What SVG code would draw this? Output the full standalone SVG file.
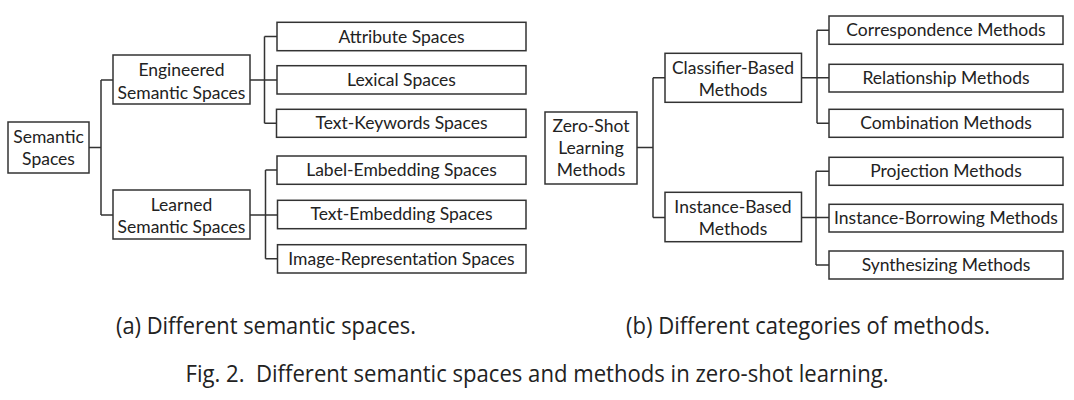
<svg xmlns="http://www.w3.org/2000/svg" width="1074" height="400" viewBox="0 0 1074 400">
<style>
.box{fill:#fff;stroke:#333;stroke-width:1.5}
.t{font-family:Lato,"Open Sans","Liberation Sans",sans-serif;font-size:17.5px;fill:#222;text-anchor:middle}
.cap{font-family:"Open Sans","Liberation Sans",sans-serif;font-size:24px;fill:#222;text-anchor:middle}
.c{fill:none;stroke:#333;stroke-width:1.5}
</style>
<rect width="1074" height="400" fill="#fff"/>
<g id="connectors">
<path class="c" d="M89 147.5H101M101 80V215M101 80H113M101 215H113"/>
<path class="c" d="M250 80H277M264.5 36.5V123.3M264.5 36.5H277M264.5 123.3H277"/>
<path class="c" d="M250 215H277M265.5 170V258.8M265.5 170H277M265.5 258.8H277"/>
<path class="c" d="M637 147.5H653M653 77.7V217.5M653 77.7H665M653 217.5H665"/>
<path class="c" d="M801.5 77.7H829M817 30.2V123.3M817 30.2H829M817 123.3H829"/>
<path class="c" d="M801.5 217.5H829M816 171.3V265M816 171.3H829M816 265H829"/>
</g>
<g id="semantic-spaces"><rect class="box" x="8" y="122" width="81" height="51"/><text class="t" x="48.5" y="142.5">Semantic</text><text class="t" x="48.5" y="165">Spaces</text></g>
<g id="engineered"><rect class="box" x="113" y="55" width="137" height="49"/><text class="t" x="181.5" y="76">Engineered</text><text class="t" x="181.5" y="98.5">Semantic Spaces</text></g>
<g id="learned"><rect class="box" x="113" y="190" width="137" height="49"/><text class="t" x="181.5" y="210.5">Learned</text><text class="t" x="181.5" y="233">Semantic Spaces</text></g>
<g id="attribute"><rect class="box" x="277" y="22.3" width="249" height="28.4"/><text class="t" x="401.5" y="42.5">Attribute Spaces</text></g>
<g id="lexical"><rect class="box" x="277" y="65.7" width="249" height="28.3"/><text class="t" x="401.5" y="85.7">Lexical Spaces</text></g>
<g id="text-keywords"><rect class="box" x="276.5" y="109.3" width="249.5" height="28"/><text class="t" x="401.5" y="129">Text-Keywords Spaces</text></g>
<g id="label-embedding"><rect class="box" x="277" y="156" width="249" height="28.3"/><text class="t" x="401.5" y="176">Label-Embedding Spaces</text></g>
<g id="text-embedding"><rect class="box" x="277.5" y="200.3" width="248.5" height="28.4"/><text class="t" x="401.5" y="220.3">Text-Embedding Spaces</text></g>
<g id="image-representation"><rect class="box" x="277.5" y="244.7" width="248.5" height="28.3"/><text class="t" x="401.5" y="264.7">Image-Representation Spaces</text></g>
<g id="zsl-methods"><rect class="box" x="545" y="112" width="92" height="72"/><text class="t" x="591" y="131.7">Zero-Shot</text><text class="t" x="591" y="154">Learning</text><text class="t" x="591" y="176">Methods</text></g>
<g id="classifier-based"><rect class="box" x="665" y="53.3" width="136.5" height="49"/><text class="t" x="733" y="73.5">Classifier-Based</text><text class="t" x="733" y="95.5">Methods</text></g>
<g id="instance-based"><rect class="box" x="665" y="192.3" width="136.5" height="49.4"/><text class="t" x="733" y="212.5">Instance-Based</text><text class="t" x="733" y="234.5">Methods</text></g>
<g id="correspondence"><rect class="box" x="829" y="16" width="234" height="28.3"/><text class="t" x="946" y="36">Correspondence Methods</text></g>
<g id="relationship"><rect class="box" x="829" y="64.3" width="234" height="27.7"/><text class="t" x="946" y="84">Relationship Methods</text></g>
<g id="combination"><rect class="box" x="829" y="109.3" width="234" height="28"/><text class="t" x="946" y="129">Combination Methods</text></g>
<g id="projection"><rect class="box" x="829" y="157.3" width="234" height="28"/><text class="t" x="946" y="177">Projection Methods</text></g>
<g id="instance-borrowing"><rect class="box" x="829" y="204.3" width="234" height="27.7"/><text class="t" x="946" y="224">Instance-Borrowing Methods</text></g>
<g id="synthesizing"><rect class="box" x="829" y="251" width="234" height="28"/><text class="t" x="946" y="271">Synthesizing Methods</text></g>
<g id="captions">
<text class="cap" x="266" y="334" textLength="300" lengthAdjust="spacingAndGlyphs">(a) Different semantic spaces.</text>
<text class="cap" x="808" y="334" textLength="364" lengthAdjust="spacingAndGlyphs">(b) Different categories of methods.</text>
<text class="cap" x="537" y="382" textLength="703" lengthAdjust="spacingAndGlyphs">Fig. 2.&#160; Different semantic spaces and methods in zero-shot learning.</text>
</g>
</svg>
